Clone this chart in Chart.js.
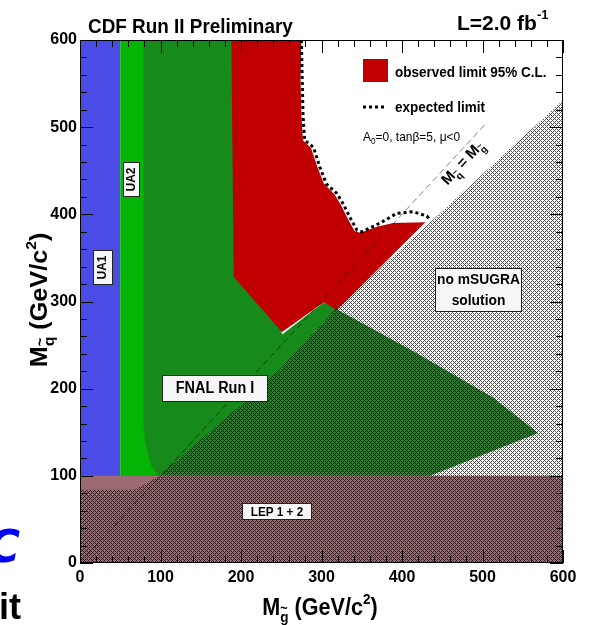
<!DOCTYPE html>
<html>
<head>
<meta charset="utf-8">
<script src="https://cdn.jsdelivr.net/npm/chart.js@4.4.1/dist/chart.umd.min.js"></script>
<style>
  html, body { margin: 0; padding: 0; background: #fff; }
  canvas { display: block; }
</style>
</head>
<body>
<canvas id="chart" width="590" height="625"></canvas>
<script>
// axis ticks (GeV/c^2)
const xTicks = [0, 100, 200, 300, 400, 500, 600];
const yTicks = [0, 100, 200, 300, 400, 500, 600];
const minorStep = 20;

// excluded regions (x = gluino mass, y = squark mass)
const ua1X = [0, 50, 50, 0];
const ua1Y = [0, 0, 600, 600];

const ua2X = [50, 100, 100, 50];
const ua2Y = [0, 0, 600, 600];

const fnalX = [79, 230, 230, 251, 303, 414, 513, 569, 435, 97, 89, 83, 81, 79];
const fnalY = [600, 600, 400, 262, 299, 243, 190, 149, 100, 100, 110, 130, 140, 155];

const obsX = [188, 275, 274, 275, 277, 287, 295, 303, 316, 324, 332, 341, 348, 370, 389, 429, 319, 303, 251, 191];
const obsY = [600, 600, 554, 515, 485, 476, 454, 435, 423, 411, 396, 381, 379, 386, 390, 391, 290, 299, 265, 328];

const expX = [275, 277, 279, 290, 298, 306, 319, 327, 335, 344, 350, 373, 393, 414, 431, 435];
const expY = [600, 515, 485, 477, 454, 435, 424, 412, 397, 382, 380, 390, 401, 403, 398, 393];

const lepX = [0, 600, 600, 0];
const lepY = [0, 0, 100, 100];

const noSugraX = [0, 0, 68, 97, 207, 248, 316, 600, 600];
const noSugraY = [0, 84, 84, 99, 187, 222, 290, 531, 0];

const diagX = [0, 506];
const diagY = [0, 506];

const FONT = '"Liberation Sans", Arial, Helvetica, sans-serif';
const RED = "#c00000";

function pts(xs, ys) {
    return xs.map((x, i) => ({x: x, y: ys[i]}));
}

const canvas = document.getElementById("chart");
const ctx0 = canvas.getContext("2d");

function makeHatch() {
    const tile = document.createElement("canvas");
    tile.width = 4;
    tile.height = 4;
    const g = tile.getContext("2d");
    g.fillStyle = "rgba(0,0,0,0.7)";
    for (let x = 0; x < 4; x++) {
        for (let y = 0; y < 4; y++) {
            if ((x + y) % 4 === 0 || (x - y + 4) % 4 === 0) g.fillRect(x, y, 1, 1);
        }
    }
    return ctx0.createPattern(tile, "repeat");
}

function area(label, xs, ys, color, order) {
    return {
        label: label,
        data: pts(xs, ys),
        backgroundColor: color,
        borderColor: "transparent",
        borderWidth: 0,
        pointRadius: 0,
        tension: 0,
        fill: "shape",
        order: order
    };
}

// text with optional rotation and horizontal squeeze
function txt(ctx, s, x, y, size, o) {
    o = o || {};
    ctx.save();
    ctx.translate(x, y);
    if (o.rot) ctx.rotate(o.rot);
    ctx.scale(o.sx || 1, 1);
    ctx.font = `${o.weight || "bold"} ${size}px ${FONT}`;
    ctx.textAlign = o.align || "left";
    ctx.textBaseline = o.base || "alphabetic";
    ctx.fillStyle = o.color || "#000";
    ctx.fillText(s, 0, 0);
    ctx.restore();
}

// runs of text (sub/superscripts), centred on cx, baseline at cy
function rich(ctx, runs, cx, cy, o) {
    o = o || {};
    ctx.save();
    ctx.translate(cx, cy);
    if (o.rot) ctx.rotate(o.rot);
    ctx.scale(o.sx || 1, 1);
    let w = 0;
    runs.forEach(r => {
        ctx.font = `${o.weight || "bold"} ${r.size}px ${FONT}`;
        r.w = ctx.measureText(r.t).width;
        if (!r.over) w += r.w;
    });
    let px = o.align === "left" ? 0 : -w / 2;
    ctx.fillStyle = "#000";
    ctx.textBaseline = "alphabetic";
    runs.forEach(r => {
        ctx.font = `${o.weight || "bold"} ${r.size}px ${FONT}`;
        ctx.fillText(r.t, px, r.dy || 0);
        if (!r.over) px += r.w;
    });
    ctx.restore();
}

function box(ctx, x, y, w, h) {
    ctx.save();
    ctx.fillStyle = "#f6f6f6";
    ctx.fillRect(x, y, w, h);
    ctx.strokeStyle = "#222";
    ctx.lineWidth = 1;
    ctx.strokeRect(x + 0.5, y + 0.5, w - 1, h - 1);
    ctx.restore();
}

const decorations = {
    id: "decorations",
    beforeDraw(chart) {
        const c = chart.ctx;
        c.save();
        c.fillStyle = "#fff";
        c.fillRect(0, 0, chart.width, chart.height);
        c.restore();
    },
    afterDatasetsDraw(chart) {
        const c = chart.ctx;
        const a = chart.chartArea;
        const xs = chart.scales.x, ys = chart.scales.y;

        // ticks on all four sides, pointing in
        c.save();
        c.strokeStyle = "#000";
        c.lineWidth = 1;
        c.beginPath();
        for (let v = xTicks[0]; v <= xTicks[xTicks.length - 1]; v += minorStep) {
            const len = v % 100 === 0 ? 13 : 7;
            const px = Math.round(xs.getPixelForValue(v)) + 0.5;
            c.moveTo(px, a.bottom); c.lineTo(px, a.bottom - len);
            c.moveTo(px, a.top); c.lineTo(px, a.top + len);
        }
        for (let v = yTicks[0]; v <= yTicks[yTicks.length - 1]; v += minorStep) {
            const len = v % 100 === 0 ? 13 : 7;
            const py = Math.round(ys.getPixelForValue(v)) + 0.5;
            c.moveTo(a.left, py); c.lineTo(a.left + len, py);
            c.moveTo(a.right, py); c.lineTo(a.right - len, py);
        }
        c.stroke();
        c.strokeRect(a.left + 0.5, a.top + 0.5, a.width - 1, a.height - 1);
        c.restore();

        // region labels
        box(c, 93, 250, 20, 35);
        txt(c, "UA1", 103, 267.5, 12, {rot: -Math.PI / 2, align: "center", base: "middle"});
        box(c, 123, 162, 17, 35);
        txt(c, "UA2", 131.5, 179.5, 12, {rot: -Math.PI / 2, align: "center", base: "middle"});
        box(c, 162, 375, 106, 27);
        txt(c, "FNAL Run I", 215, 389, 16, {sx: 0.9, align: "center", base: "middle"});
        box(c, 242, 503, 70, 17);
        txt(c, "LEP 1 + 2", 277, 512, 13, {sx: 0.9, align: "center", base: "middle"});
        box(c, 435, 268, 87, 44);
        txt(c, "no mSUGRA", 478.5, 280, 15, {sx: 0.92, align: "center", base: "middle"});
        txt(c, "solution", 478.5, 301, 15, {sx: 0.92, align: "center", base: "middle"});

        // legend
        const obs = chart.data.datasets[3];
        const exp = chart.data.datasets[7];
        c.save();
        c.fillStyle = obs.backgroundColor;
        c.fillRect(363, 59, 25, 23);
        c.strokeStyle = exp.borderColor;
        c.lineWidth = exp.borderWidth;
        c.setLineDash(exp.borderDash);
        c.beginPath();
        c.moveTo(363, 107);
        c.lineTo(387, 107);
        c.stroke();
        c.restore();
        txt(c, "observed limit 95% C.L.", 395, 77, 15, {sx: 0.9});
        txt(c, "expected limit", 395, 112, 15, {sx: 0.9});
        rich(c, [
            {t: "A", size: 13},
            {t: "0", size: 9, dy: 3},
            {t: "=0, tan\u03b2=5, \u03bc<0", size: 13}
        ], 363, 141, {align: "left", sx: 0.92, weight: "normal"});

        // diagonal label
        rich(c, [
            {t: "M", size: 15},
            {t: "~", size: 9, dy: -1, over: true},
            {t: "q", size: 10, dy: 5},
            {t: " = ", size: 15},
            {t: "M", size: 15},
            {t: "~", size: 9, dy: -1, over: true},
            {t: "g", size: 10, dy: 5}
        ], 466, 166, {rot: -0.82});

        // titles
        txt(c, "CDF Run II Preliminary", 88, 33, 21, {sx: 0.9});
        rich(c, [
            {t: "L=2.0 fb", size: 21},
            {t: "-1", size: 13, dy: -11}
        ], 457, 30, {align: "left"});

        rich(c, [
            {t: "M", size: 24},
            {t: "~", size: 14, dy: -2, over: true},
            {t: "g", size: 15, dy: 7},
            {t: " (GeV/c", size: 24},
            {t: "2", size: 15, dy: -11},
            {t: ")", size: 24}
        ], 320, 615, {sx: 0.9});
        rich(c, [
            {t: "M", size: 24},
            {t: "~", size: 14, dy: -2, over: true},
            {t: "q", size: 15, dy: 7},
            {t: " (GeV/c", size: 24},
            {t: "2", size: 15, dy: -11},
            {t: ")", size: 24}
        ], 47, 300, {rot: -Math.PI / 2, sx: 1.05});

        // fragments of slide text at the left edge
        c.save();
        c.font = `bold italic 44px "DejaVu Sans", sans-serif`;
        c.fillStyle = "#0000ff";
        c.textAlign = "right";
        c.fillText("C", 20, 562);
        c.font = `bold 36px ${FONT}`;
        c.fillStyle = "#000";
        c.textAlign = "left";
        c.fillText("it", -1, 619);
        c.restore();
    }
};

const hatch = makeHatch();

new Chart(canvas, {
    type: "line",
    data: {
        datasets: [
            area("UA1", ua1X, ua1Y, "#4b4be6", 8),
            area("UA2", ua2X, ua2Y, "#05b505", 7),
            area("FNAL Run I", fnalX, fnalY, "#168a1a", 6),
            area("observed limit 95% C.L.", obsX, obsY, RED, 5),
            area("LEP 1 + 2", lepX, lepY, "#9c6a70", 4),
            area("no mSUGRA solution", noSugraX, noSugraY, hatch, 3),
            {
                label: "M(q) = M(g)",
                data: pts(diagX, diagY),
                borderColor: "rgba(0,0,0,0.5)",
                borderWidth: 1,
                borderDash: [6, 4],
                pointRadius: 0,
                fill: false,
                order: 2
            },
            {
                label: "expected limit",
                data: pts(expX, expY),
                borderColor: "#000",
                borderWidth: 3,
                borderDash: [3, 3],
                borderCapStyle: "butt",
                pointRadius: 0,
                tension: 0,
                fill: false,
                order: 1
            }
        ]
    },
    options: {
        responsive: false,
        animation: false,
        events: [],
        layout: {padding: {left: 0, right: 27, top: 40, bottom: 0}},
        plugins: {
            legend: {display: false},
            tooltip: {enabled: false}
        },
        scales: {
            x: {
                type: "linear",
                min: xTicks[0],
                max: xTicks[xTicks.length - 1],
                afterBuildTicks: s => { s.ticks = xTicks.map(v => ({value: v})); },
                afterFit: s => { s.height = 62; },
                grid: {display: false, drawTicks: false},
                border: {display: false},
                ticks: {
                    color: "#000",
                    padding: 5,
                    maxRotation: 0,
                    font: {family: FONT, size: 16, weight: "bold"}
                }
            },
            y: {
                type: "linear",
                min: yTicks[0],
                max: yTicks[yTicks.length - 1],
                afterBuildTicks: s => { s.ticks = yTicks.map(v => ({value: v})); },
                afterFit: s => { s.width = 80; },
                grid: {display: false, drawTicks: false},
                border: {display: false},
                ticks: {
                    color: "#000",
                    padding: 3,
                    font: {family: FONT, size: 16, weight: "bold"}
                }
            }
        }
    },
    plugins: [decorations]
});
</script>
</body>
</html>
